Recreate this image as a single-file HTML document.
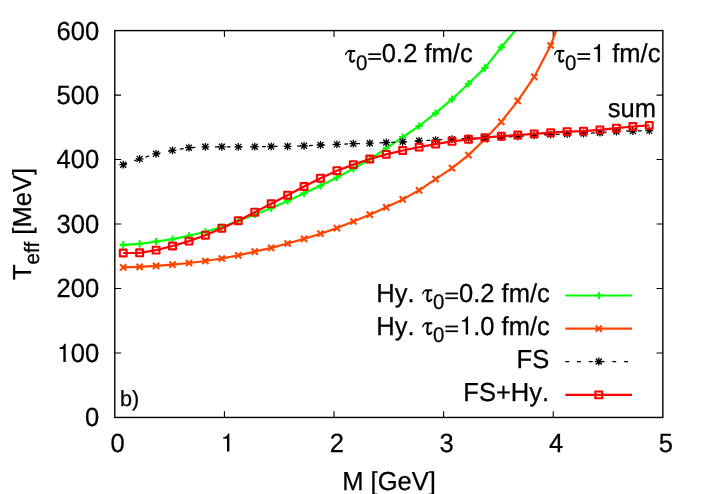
<!DOCTYPE html>
<html><head><meta charset="utf-8"><title>plot</title>
<style>
html,body{margin:0;padding:0;background:#fff;}
svg{display:block;will-change:transform;}
text{font-family:"Liberation Sans",sans-serif;fill:#000;font-kerning:none;text-rendering:geometricPrecision;}
</style></head><body>
<svg width="706" height="494" viewBox="0 0 706 494">
<rect width="706" height="494" fill="#fff"/>
<defs><clipPath id="c"><rect x="114.8" y="30.6" width="548.0500000000001" height="386.84999999999997"/></clipPath></defs>
<path d="M224.41 417.45v-6.3M224.41 30.6v6.3M334.02 417.45v-6.3M334.02 30.6v6.3M443.63 417.45v-6.3M443.63 30.6v6.3M553.24 417.45v-6.3M553.24 30.6v6.3M114.8 352.98h6.3M662.85 352.98h-6.3M114.8 288.50h6.3M662.85 288.50h-6.3M114.8 224.03h6.3M662.85 224.03h-6.3M114.8 159.55h6.3M662.85 159.55h-6.3M114.8 95.08h6.3M662.85 95.08h-6.3" stroke="#000" stroke-width="1.1" fill="none"/>
<g clip-path="url(#c)" fill="none" stroke-linejoin="round">
<polyline points="123.20,244.85 139.64,243.80 156.08,241.60 172.52,239.20 188.96,235.80 205.40,231.80 221.84,227.00 238.28,221.00 254.72,214.50 271.16,208.20 287.60,201.10 304.04,193.30 320.48,185.80 336.92,177.50 353.36,168.80 369.80,159.20 386.24,148.40 402.68,137.10 419.12,126.00 435.56,113.20 452.00,99.20 468.44,83.70 484.88,67.90 501.32,47.20 517.76,27.50" stroke="#00ff00" stroke-width="2.2"/>
<path d="M119.60 244.85H126.80M123.20 241.25V248.45M136.04 243.80H143.24M139.64 240.20V247.40M152.48 241.60H159.68M156.08 238.00V245.20M168.92 239.20H176.12M172.52 235.60V242.80M185.36 235.80H192.56M188.96 232.20V239.40M201.80 231.80H209.00M205.40 228.20V235.40M218.24 227.00H225.44M221.84 223.40V230.60M234.68 221.00H241.88M238.28 217.40V224.60M251.12 214.50H258.32M254.72 210.90V218.10M267.56 208.20H274.76M271.16 204.60V211.80M284.00 201.10H291.20M287.60 197.50V204.70M300.44 193.30H307.64M304.04 189.70V196.90M316.88 185.80H324.08M320.48 182.20V189.40M333.32 177.50H340.52M336.92 173.90V181.10M349.76 168.80H356.96M353.36 165.20V172.40M366.20 159.20H373.40M369.80 155.60V162.80M382.64 148.40H389.84M386.24 144.80V152.00M399.08 137.10H406.28M402.68 133.50V140.70M415.52 126.00H422.72M419.12 122.40V129.60M431.96 113.20H439.16M435.56 109.60V116.80M448.40 99.20H455.60M452.00 95.60V102.80M464.84 83.70H472.04M468.44 80.10V87.30M481.28 67.90H488.48M484.88 64.30V71.50M497.72 47.20H504.92M501.32 43.60V50.80" stroke="#00ff00" stroke-width="2.1"/>
<polyline points="123.20,267.30 139.64,266.90 156.08,265.90 172.52,264.70 188.96,263.00 205.40,261.00 221.84,258.50 238.28,255.40 254.72,251.60 271.16,247.90 287.60,243.50 304.04,238.90 320.48,233.70 336.92,228.10 353.36,221.50 369.80,214.70 386.24,207.30 402.68,199.40 419.12,190.30 435.56,179.10 452.00,168.20 468.44,155.10 484.88,139.30 501.32,121.80 517.76,100.90 534.20,76.90 550.64,45.50 567.08,1.40" stroke="#ff4500" stroke-width="2.2"/>
<path d="M120.10 264.20L126.30 270.40M120.10 270.40L126.30 264.20M136.54 263.80L142.74 270.00M136.54 270.00L142.74 263.80M152.98 262.80L159.18 269.00M152.98 269.00L159.18 262.80M169.42 261.60L175.62 267.80M169.42 267.80L175.62 261.60M185.86 259.90L192.06 266.10M185.86 266.10L192.06 259.90M202.30 257.90L208.50 264.10M202.30 264.10L208.50 257.90M218.74 255.40L224.94 261.60M218.74 261.60L224.94 255.40M235.18 252.30L241.38 258.50M235.18 258.50L241.38 252.30M251.62 248.50L257.82 254.70M251.62 254.70L257.82 248.50M268.06 244.80L274.26 251.00M268.06 251.00L274.26 244.80M284.50 240.40L290.70 246.60M284.50 246.60L290.70 240.40M300.94 235.80L307.14 242.00M300.94 242.00L307.14 235.80M317.38 230.60L323.58 236.80M317.38 236.80L323.58 230.60M333.82 225.00L340.02 231.20M333.82 231.20L340.02 225.00M350.26 218.40L356.46 224.60M350.26 224.60L356.46 218.40M366.70 211.60L372.90 217.80M366.70 217.80L372.90 211.60M383.14 204.20L389.34 210.40M383.14 210.40L389.34 204.20M399.58 196.30L405.78 202.50M399.58 202.50L405.78 196.30M416.02 187.20L422.22 193.40M416.02 193.40L422.22 187.20M432.46 176.00L438.66 182.20M432.46 182.20L438.66 176.00M448.90 165.10L455.10 171.30M448.90 171.30L455.10 165.10M465.34 152.00L471.54 158.20M465.34 158.20L471.54 152.00M481.78 136.20L487.98 142.40M481.78 142.40L487.98 136.20M498.22 118.70L504.42 124.90M498.22 124.90L504.42 118.70M514.66 97.80L520.86 104.00M514.66 104.00L520.86 97.80M531.10 73.80L537.30 80.00M531.10 80.00L537.30 73.80M547.54 42.40L553.74 48.60M547.54 48.60L553.74 42.40" stroke="#ff4500" stroke-width="2.1"/>
<polyline points="123.20,164.70 139.64,158.90 156.08,153.80 172.52,150.40 188.96,147.70 205.40,146.80 221.84,146.80 238.28,146.90 254.72,146.70 271.16,146.50 287.60,146.30 304.04,145.80 320.48,145.00 336.92,144.40 353.36,143.70 369.80,143.20 386.24,142.50 402.68,141.80 419.12,140.80 435.56,140.10 452.00,139.20 468.44,138.40 484.88,137.70 501.32,137.10 517.76,136.40 534.20,135.40 550.64,134.60 567.08,134.00 583.52,133.50 599.96,132.70 616.40,131.50 632.84,131.00 649.28,130.60" stroke="#000" stroke-width="1.25" stroke-dasharray="3.92 7.84"/>
<path d="M119.30 164.70H127.10M123.20 160.80V168.60M120.20 161.70L126.20 167.70M120.20 167.70L126.20 161.70M135.74 158.90H143.54M139.64 155.00V162.80M136.64 155.90L142.64 161.90M136.64 161.90L142.64 155.90M152.18 153.80H159.98M156.08 149.90V157.70M153.08 150.80L159.08 156.80M153.08 156.80L159.08 150.80M168.62 150.40H176.42M172.52 146.50V154.30M169.52 147.40L175.52 153.40M169.52 153.40L175.52 147.40M185.06 147.70H192.86M188.96 143.80V151.60M185.96 144.70L191.96 150.70M185.96 150.70L191.96 144.70M201.50 146.80H209.30M205.40 142.90V150.70M202.40 143.80L208.40 149.80M202.40 149.80L208.40 143.80M217.94 146.80H225.74M221.84 142.90V150.70M218.84 143.80L224.84 149.80M218.84 149.80L224.84 143.80M234.38 146.90H242.18M238.28 143.00V150.80M235.28 143.90L241.28 149.90M235.28 149.90L241.28 143.90M250.82 146.70H258.62M254.72 142.80V150.60M251.72 143.70L257.72 149.70M251.72 149.70L257.72 143.70M267.26 146.50H275.06M271.16 142.60V150.40M268.16 143.50L274.16 149.50M268.16 149.50L274.16 143.50M283.70 146.30H291.50M287.60 142.40V150.20M284.60 143.30L290.60 149.30M284.60 149.30L290.60 143.30M300.14 145.80H307.94M304.04 141.90V149.70M301.04 142.80L307.04 148.80M301.04 148.80L307.04 142.80M316.58 145.00H324.38M320.48 141.10V148.90M317.48 142.00L323.48 148.00M317.48 148.00L323.48 142.00M333.02 144.40H340.82M336.92 140.50V148.30M333.92 141.40L339.92 147.40M333.92 147.40L339.92 141.40M349.46 143.70H357.26M353.36 139.80V147.60M350.36 140.70L356.36 146.70M350.36 146.70L356.36 140.70M365.90 143.20H373.70M369.80 139.30V147.10M366.80 140.20L372.80 146.20M366.80 146.20L372.80 140.20M382.34 142.50H390.14M386.24 138.60V146.40M383.24 139.50L389.24 145.50M383.24 145.50L389.24 139.50M398.78 141.80H406.58M402.68 137.90V145.70M399.68 138.80L405.68 144.80M399.68 144.80L405.68 138.80M415.22 140.80H423.02M419.12 136.90V144.70M416.12 137.80L422.12 143.80M416.12 143.80L422.12 137.80M431.66 140.10H439.46M435.56 136.20V144.00M432.56 137.10L438.56 143.10M432.56 143.10L438.56 137.10M448.10 139.20H455.90M452.00 135.30V143.10M449.00 136.20L455.00 142.20M449.00 142.20L455.00 136.20M464.54 138.40H472.34M468.44 134.50V142.30M465.44 135.40L471.44 141.40M465.44 141.40L471.44 135.40M480.98 137.70H488.78M484.88 133.80V141.60M481.88 134.70L487.88 140.70M481.88 140.70L487.88 134.70M497.42 137.10H505.22M501.32 133.20V141.00M498.32 134.10L504.32 140.10M498.32 140.10L504.32 134.10M513.86 136.40H521.66M517.76 132.50V140.30M514.76 133.40L520.76 139.40M514.76 139.40L520.76 133.40M530.30 135.40H538.10M534.20 131.50V139.30M531.20 132.40L537.20 138.40M531.20 138.40L537.20 132.40M546.74 134.60H554.54M550.64 130.70V138.50M547.64 131.60L553.64 137.60M547.64 137.60L553.64 131.60M563.18 134.00H570.98M567.08 130.10V137.90M564.08 131.00L570.08 137.00M564.08 137.00L570.08 131.00M579.62 133.50H587.42M583.52 129.60V137.40M580.52 130.50L586.52 136.50M580.52 136.50L586.52 130.50M596.06 132.70H603.86M599.96 128.80V136.60M596.96 129.70L602.96 135.70M596.96 135.70L602.96 129.70M612.50 131.50H620.30M616.40 127.60V135.40M613.40 128.50L619.40 134.50M613.40 134.50L619.40 128.50M628.94 131.00H636.74M632.84 127.10V134.90M629.84 128.00L635.84 134.00M629.84 134.00L635.84 128.00M645.38 130.60H653.18M649.28 126.70V134.50M646.28 127.60L652.28 133.60M646.28 133.60L652.28 127.60" stroke="#000" stroke-width="1.3"/>
<polyline points="123.20,253.00 139.64,252.80 156.08,250.10 172.52,246.00 188.96,241.10 205.40,235.20 221.84,228.20 238.28,220.70 254.72,212.20 271.16,203.80 287.60,195.20 304.04,186.50 320.48,178.20 336.92,170.70 353.36,164.60 369.80,159.00 386.24,154.40 402.68,150.50 419.12,147.10 435.56,144.10 452.00,141.30 468.44,139.30 484.88,137.60 501.32,136.20 517.76,135.00 534.20,133.90 550.64,132.60 567.08,131.60 583.52,131.10 599.96,129.90 616.40,128.20 632.84,126.50 649.28,125.40" stroke="#ff0000" stroke-width="2.2"/>
<path d="M119.80 249.60h6.8v6.8h-6.8zM136.24 249.40h6.8v6.8h-6.8zM152.68 246.70h6.8v6.8h-6.8zM169.12 242.60h6.8v6.8h-6.8zM185.56 237.70h6.8v6.8h-6.8zM202.00 231.80h6.8v6.8h-6.8zM218.44 224.80h6.8v6.8h-6.8zM234.88 217.30h6.8v6.8h-6.8zM251.32 208.80h6.8v6.8h-6.8zM267.76 200.40h6.8v6.8h-6.8zM284.20 191.80h6.8v6.8h-6.8zM300.64 183.10h6.8v6.8h-6.8zM317.08 174.80h6.8v6.8h-6.8zM333.52 167.30h6.8v6.8h-6.8zM349.96 161.20h6.8v6.8h-6.8zM366.40 155.60h6.8v6.8h-6.8zM382.84 151.00h6.8v6.8h-6.8zM399.28 147.10h6.8v6.8h-6.8zM415.72 143.70h6.8v6.8h-6.8zM432.16 140.70h6.8v6.8h-6.8zM448.60 137.90h6.8v6.8h-6.8zM465.04 135.90h6.8v6.8h-6.8zM481.48 134.20h6.8v6.8h-6.8zM497.92 132.80h6.8v6.8h-6.8zM514.36 131.60h6.8v6.8h-6.8zM530.80 130.50h6.8v6.8h-6.8zM547.24 129.20h6.8v6.8h-6.8zM563.68 128.20h6.8v6.8h-6.8zM580.12 127.70h6.8v6.8h-6.8zM596.56 126.50h6.8v6.8h-6.8zM613.00 124.80h6.8v6.8h-6.8zM629.44 123.10h6.8v6.8h-6.8zM645.88 122.00h6.8v6.8h-6.8z" stroke="#ff0000" stroke-width="2.1"/>
</g>
<g fill="none">
<path d="M565.3 295.5H632.0" stroke="#00ff00" stroke-width="2.2"/><path d="M595.20 295.50H602.40M598.80 291.90V299.10" stroke="#00ff00" stroke-width="2.1"/>
<path d="M565.3 328.6H632.0" stroke="#ff4500" stroke-width="2.2"/><path d="M595.70 325.50L601.90 331.70M595.70 331.70L601.90 325.50" stroke="#ff4500" stroke-width="2.1"/>
<path d="M565.3 361.5H632.0" stroke="#000" stroke-width="1.25" stroke-dasharray="3.92 7.84"/><path d="M594.90 361.50H602.70M598.80 357.60V365.40M595.80 358.50L601.80 364.50M595.80 364.50L601.80 358.50" stroke="#000" stroke-width="1.3"/>
<path d="M565.3 394.9H632.0" stroke="#ff0000" stroke-width="2.2"/><path d="M595.40 391.50h6.8v6.8h-6.8z" stroke="#ff0000" stroke-width="2.1"/>
</g>
<rect x="114.8" y="30.6" width="548.0500000000001" height="386.84999999999997" fill="none" stroke="#000" stroke-width="1.4"/>
<g font-size="25.55" stroke="#000" stroke-width="0.25">
<text transform="translate(84.99 426.35) scale(1 1.03)" font-size="25.55">0</text>
<path d="M63.37 361.88L63.37 349.02L59.52 348.88L59.52 347.57C62.02 347.27 63.52 346.07 64.42 343.77L65.72 343.77L65.72 361.88Z" stroke="none"/><text transform="translate(70.78 361.88) scale(1 1.03)" font-size="25.55">00</text>
<text transform="translate(56.57 297.40) scale(1 1.03)" font-size="25.55">200</text>
<text transform="translate(56.57 232.93) scale(1 1.03)" font-size="25.55">300</text>
<text transform="translate(56.57 168.45) scale(1 1.03)" font-size="25.55">400</text>
<text transform="translate(56.57 103.98) scale(1 1.03)" font-size="25.55">500</text>
<text transform="translate(56.57 39.50) scale(1 1.03)" font-size="25.55">600</text>
<text transform="translate(110.60 451.50) scale(1 1.03)" font-size="25.55">0</text>
<path d="M227.01 451.50L227.01 438.65L223.16 438.50L223.16 437.20C225.66 436.90 227.16 435.70 228.06 433.40L229.36 433.40L229.36 451.50Z" stroke="none"/>
<text transform="translate(329.82 451.50) scale(1 1.03)" font-size="25.55">2</text>
<text transform="translate(439.43 451.50) scale(1 1.03)" font-size="25.55">3</text>
<text transform="translate(549.04 451.50) scale(1 1.03)" font-size="25.55">4</text>
<text transform="translate(658.65 451.50) scale(1 1.03)" font-size="25.55">5</text>
<text transform="translate(389.00 489.50) scale(1 1.02)" text-anchor="middle">M [GeV]</text>
<text transform="translate(31 224) rotate(-90) scale(1 1.02)" text-anchor="middle">T<tspan font-size="20.44" dy="7.75">eff</tspan><tspan dy="-7.75"> [MeV]</tspan></text>
<path d="M345.65 54.60C346.20 52.60 347.10 51.30 348.80 51.10" fill="none" stroke="#000" stroke-width="1.3" stroke-linecap="round"/><path d="M348.10 51.00H355.20" fill="none" stroke="#000" stroke-width="2.0" stroke-linecap="butt"/><path d="M350.90 51.00C350.70 55.20 350.00 57.70 350.20 59.40C350.40 61.50 351.70 62.10 352.90 61.60C353.60 61.20 354.20 60.40 354.60 59.60" fill="none" stroke="#000" stroke-width="2.1" stroke-linecap="butt"/><text transform="translate(356.00 70.10) scale(1 1.03)" font-size="20.44">0</text><rect x="368.30" y="53.33" width="12.60" height="1.75" stroke="none"/><rect x="368.30" y="58.08" width="12.60" height="1.75" stroke="none"/><text transform="translate(381.82 62.20) scale(1 1.02)" font-size="25.55">0.2</text><text transform="translate(424.44 62.20) scale(1 1.02)" font-size="25.55">fm/c</text>
<path d="M554.75 54.50C555.30 52.50 556.20 51.20 557.90 51.00" fill="none" stroke="#000" stroke-width="1.3" stroke-linecap="round"/><path d="M557.20 50.90H564.30" fill="none" stroke="#000" stroke-width="2.0" stroke-linecap="butt"/><path d="M560.00 50.90C559.80 55.10 559.10 57.60 559.30 59.30C559.50 61.40 560.80 62.00 562.00 61.50C562.70 61.10 563.30 60.30 563.70 59.50" fill="none" stroke="#000" stroke-width="2.1" stroke-linecap="butt"/><text transform="translate(565.10 70.00) scale(1 1.03)" font-size="20.44">0</text><rect x="577.40" y="53.23" width="12.60" height="1.75" stroke="none"/><rect x="577.40" y="57.98" width="12.60" height="1.75" stroke="none"/><path d="M597.72 62.10L597.72 49.25L593.87 49.10L593.87 47.80C596.37 47.50 597.87 46.30 598.77 44.00L600.07 44.00L600.07 62.10Z" stroke="none"/><text transform="translate(612.23 62.10) scale(1 1.02)" font-size="25.55">fm/c</text>
<text transform="translate(656.00 116.90) scale(1 1.02)" text-anchor="end">sum</text>
<text transform="translate(376.25 301.50) scale(1 1.02)">Hy.</text><path d="M422.75 293.90C423.30 291.90 424.20 290.60 425.90 290.40" fill="none" stroke="#000" stroke-width="1.3" stroke-linecap="round"/><path d="M425.20 290.30H432.30" fill="none" stroke="#000" stroke-width="2.0" stroke-linecap="butt"/><path d="M428.00 290.30C427.80 294.50 427.10 297.00 427.30 298.70C427.50 300.80 428.80 301.40 430.00 300.90C430.70 300.50 431.30 299.70 431.70 298.90" fill="none" stroke="#000" stroke-width="2.1" stroke-linecap="butt"/><text transform="translate(433.10 309.40) scale(1 1.03)" font-size="20.44">0</text><rect x="445.40" y="292.62" width="12.60" height="1.75" stroke="none"/><rect x="445.40" y="297.38" width="12.60" height="1.75" stroke="none"/><text transform="translate(458.92 301.50) scale(1 1.02)" font-size="25.55">0.2</text><text transform="translate(501.54 301.50) scale(1 1.02)" font-size="25.55">fm/c</text>
<text transform="translate(376.25 334.50) scale(1 1.02)">Hy.</text><path d="M422.75 326.90C423.30 324.90 424.20 323.60 425.90 323.40" fill="none" stroke="#000" stroke-width="1.3" stroke-linecap="round"/><path d="M425.20 323.30H432.30" fill="none" stroke="#000" stroke-width="2.0" stroke-linecap="butt"/><path d="M428.00 323.30C427.80 327.50 427.10 330.00 427.30 331.70C427.50 333.80 428.80 334.40 430.00 333.90C430.70 333.50 431.30 332.70 431.70 331.90" fill="none" stroke="#000" stroke-width="2.1" stroke-linecap="butt"/><text transform="translate(433.10 342.40) scale(1 1.03)" font-size="20.44">0</text><rect x="445.40" y="325.62" width="12.60" height="1.75" stroke="none"/><rect x="445.40" y="330.38" width="12.60" height="1.75" stroke="none"/><path d="M465.72 334.50L465.72 321.65L461.87 321.50L461.87 320.20C464.37 319.90 465.87 318.70 466.77 316.40L468.07 316.40L468.07 334.50Z" stroke="none"/><text transform="translate(473.13 334.50) scale(1 1.02)" font-size="25.55">.0</text><text transform="translate(501.54 334.50) scale(1 1.02)" font-size="25.55">fm/c</text>
<text transform="translate(549.20 367.60) scale(1 1.02)" text-anchor="end">FS</text>
<text transform="translate(549.20 400.80) scale(1 1.02)" text-anchor="end">FS+Hy.</text>
<text transform="translate(119.90 406.30) scale(1 1.02)" font-size="21.60">b)</text>
</g>
</svg></body></html>
